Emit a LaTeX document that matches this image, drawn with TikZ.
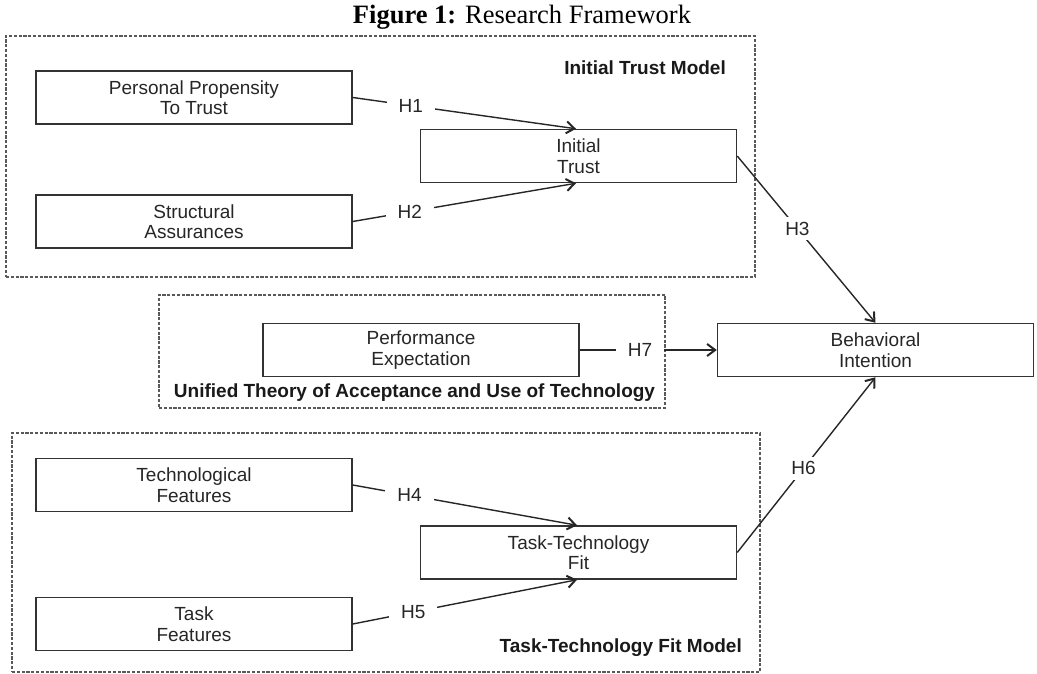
\documentclass[tikz,border=0pt]{standalone}
\usepackage{fontspec}
\setmainfont{Liberation Sans}
\newfontfamily\titlefont{Liberation Serif}
\usetikzlibrary{arrows.meta}
\begin{document}
\begin{tikzpicture}[x=1pt,y=-1pt,
  box/.style={draw=black!80, line width=1.5pt, minimum width=316pt, minimum height=53pt, inner sep=0pt, align=center, font=\fontsize{19}{20.5}\selectfont, text=black!85},
  group/.style={draw=black!65, line width=1.4pt, dash pattern=on 3.2pt off 1.6pt, inner sep=0pt},
  link/.style={draw=black!85, line width=1.4pt},
  arr/.style={link, -{Straight Barb[length=8pt,width=12pt,line width=2pt]}},
  hyp/.style={fill=white, inner xsep=12pt, inner ysep=5pt, font=\fontsize{19}{20}\selectfont, text=black!85},
  glabel/.style={font=\bfseries\fontsize{19}{20}\selectfont, text=black!90, inner sep=0pt}]
\useasboundingbox (0,0) rectangle (1037,674);

\node (title) at (522,17) {\titlefont\fontsize{26.5}{28}\selectfont\textbf{Figure 1:} Research Framework};

% groups
\node[group, minimum width=749pt, minimum height=241pt] (itm) at (380.5,156.5) {};
\node[group, minimum width=506pt, minimum height=113pt] (utaut) at (412,351.5) {};
\node[group, minimum width=748pt, minimum height=239pt] (ttfm) at (386,552.5) {};

\node[glabel, anchor=east] (itmlab) at (726,68) {Initial Trust Model};
\node[glabel] (utautlab) at (414.5,393) {Unified Theory of Acceptance and Use of Technology};
\node[glabel, anchor=east] (ttfmlab) at (742,648) {Task-Technology Fit Model};

% boxes
\node[box] (pers) at (194,97.5) {Personal Propensity\\To Trust};
\node[box] (struct) at (194,221.5) {Structural\\Assurances};
\node[box] (itrust) at (578.5,156) {Initial\\Trust};
\node[box] (perf) at (421,350) {Performance\\Expectation};
\node[box] (behav) at (875.5,350) {Behavioral\\Intention};
\node[box] (tech) at (194,485) {Technological\\Features};
\node[box] (task) at (194,624) {Task\\Features};
\node[box] (ttf) at (578.5,552.5) {Task-Technology\\Fit};

% connectors
\coordinate (itTop) at ([xshift=-2.5pt]itrust.north);
\coordinate (itBot) at ([xshift=-2.5pt]itrust.south);
\coordinate (ttfTop) at ([xshift=-1.5pt]ttf.north);
\coordinate (ttfBot) at ([xshift=-1.5pt]ttf.south);

\draw[arr] (pers.east) -- node[hyp, pos=0.26] {H1} (itTop);
\draw[arr] (struct.east) -- node[hyp, pos=0.255] {H2} (itBot);
\draw[arr] (itrust.east) -- node[hyp, pos=0.435] {H3} (behav.north);
\draw[arr] (perf.east) -- node[hyp, pos=0.44] {H7} (behav.west);
\draw[arr] (ttf.east) -- node[hyp, pos=0.48] {H6} (behav.south);
\draw[arr] (tech.east) -- node[hyp, pos=0.253] {H4} (ttfTop);
\draw[arr] (task.east) -- node[hyp, pos=0.27] {H5} (ttfBot);
\end{tikzpicture}
\end{document}
